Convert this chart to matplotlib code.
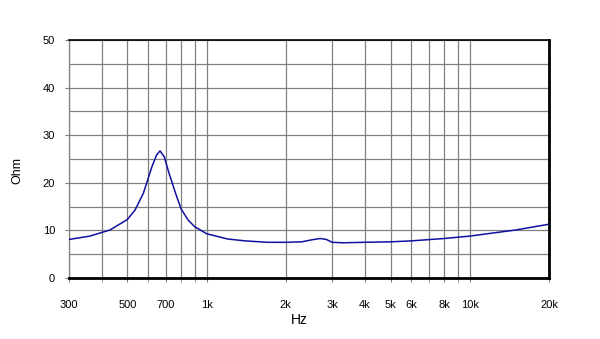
import matplotlib
matplotlib.use("Agg")
import matplotlib.pyplot as plt
from matplotlib.ticker import FixedLocator, NullFormatter, NullLocator

plt.rcParams['font.family'] = ['Liberation Sans', 'DejaVu Sans']

freq_hz = [300, 360, 430, 500, 535, 575, 620, 645, 665, 690, 720, 760, 800, 850, 900,
           1000, 1200, 1400, 1700, 2000, 2300, 2500, 2700, 2850, 3000, 3300, 4000,
           5000, 6000, 8000, 10000, 15000, 20000]
impedance_ohm = [8.1, 8.8, 10.1, 12.3, 14.3, 17.8, 23.4, 25.8, 26.7, 25.5, 22.0, 18.0, 14.5, 12.2, 10.8,
                 9.3, 8.2, 7.8, 7.5, 7.5, 7.6, 8.0, 8.3, 8.1, 7.5, 7.4, 7.5,
                 7.6, 7.8, 8.3, 8.8, 10.1, 11.3]

x_grid = [300, 400, 500, 600, 700, 800, 900, 1000, 2000, 3000, 4000, 5000, 6000,
          7000, 8000, 9000, 10000, 20000]
x_tick_vals = [300, 500, 700, 1000, 2000, 3000, 4000, 5000, 6000, 8000, 10000, 20000]
x_tick_labels = ["300", "500", "700", "1k", "2k", "3k", "4k", "5k", "6k", "8k", "10k", "20k"]
y_ticks = [0, 10, 20, 30, 40, 50]
y_grid = [0, 5, 10, 15, 20, 25, 30, 35, 40, 45, 50]

fig = plt.figure(figsize=(6.0, 3.39), dpi=100)
ax = fig.add_axes([69/600, 61/339, 480/600, 238/339])

ax.set_xscale('log')
ax.set_xlim(300, 20000)
ax.set_ylim(0, 50)

grey = '#808080'
for xv in x_grid:
    ax.axvline(xv, color=grey, lw=0.9, zorder=1)
for yv in y_grid:
    ax.axhline(yv, color=grey, lw=0.9, zorder=1)

ax.plot(freq_hz, impedance_ohm, color='#1010a0', lw=1.1, zorder=3)

ax.xaxis.set_major_locator(FixedLocator(x_tick_vals))
ax.xaxis.set_minor_locator(FixedLocator([v for v in x_grid if v not in x_tick_vals]))
ax.xaxis.set_minor_formatter(NullFormatter())
ax.set_xticklabels(x_tick_labels)
ax.set_yticks(y_ticks)
ax.yaxis.set_minor_locator(NullLocator())

ax.tick_params(axis='x', which='both', direction='out', length=3, color=grey,
               labelsize=8, pad=13)
ax.tick_params(axis='y', direction='out', length=3, color=grey, labelsize=8, pad=7)

for s in ['top', 'bottom', 'right']:
    ax.spines[s].set_color('black')
ax.spines['top'].set_linewidth(1.2)
ax.spines['bottom'].set_linewidth(2.0)
ax.spines['right'].set_linewidth(2.0)
ax.spines['left'].set_color(grey)
ax.spines['left'].set_linewidth(0.9)

fig.text(17/600, 1 - 170/339, 'Ohm', rotation=90, ha='center', va='center', fontsize=9)
fig.text(299/600, 1 - 320/339, 'Hz', ha='center', va='center', fontsize=10)

fig.savefig('out.png', dpi=100, facecolor='white')
